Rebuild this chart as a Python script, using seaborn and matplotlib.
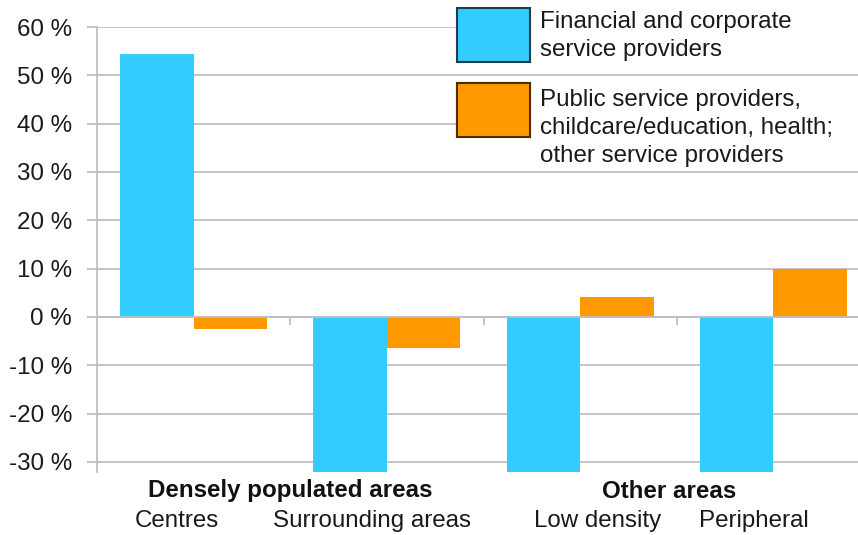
import matplotlib
matplotlib.use("Agg")
import matplotlib.pyplot as plt
from matplotlib.patches import Patch, Rectangle
from matplotlib.legend_handler import HandlerPatch
from matplotlib.transforms import blended_transform_factory
import pandas as pd
import seaborn as sns

# data
areas = ["Centres", "Surrounding areas", "Low density", "Peripheral"]
area_groups = ["Densely populated areas", "Other areas"]
series = ["Financial and corporate\nservice providers",
          "Public service providers,\nchildcare/education, health;\nother service providers"]
financial = [54.4, -32.1, -32.1, -32.1]   # three bars run off the bottom of the axis
public = [-2.5, -6.4, 4.1, 9.9]
yticks = [-30, -20, -10, 0, 10, 20, 30, 40, 50, 60]

colors = ["#33CCFF", "#FF9900"]
edge_colors = ["#233C4A", "#4A3000"]
grid_col = "#BFBFBF"

df = pd.DataFrame({
    "area": areas * 2,
    "series": [series[0]] * len(areas) + [series[1]] * len(areas),
    "value": financial + public,
})

sns.set_theme(style="white")
plt.rcParams["font.family"] = ["Liberation Sans", "DejaVu Sans"]
fs = 17.4

fig = plt.figure(figsize=(8.58, 5.35), dpi=100)
ax = fig.add_axes([97 / 858, 1 - 472 / 535, 773 / 858, 445 / 535])

sns.barplot(data=df, x="area", y="value", hue="series", order=areas,
            hue_order=series, palette=colors, saturation=1, width=0.76,
            ax=ax, legend=False, linewidth=0)

ax.set_ylim(-32.07, 60)
ax.set_xlim(-0.5, 3.5)
ax.set_yticks(yticks)
ax.set_yticklabels([f"{v} %" for v in yticks], fontsize=fs, color="#1a1a1a")
ax.tick_params(axis="y", direction="out", length=7, width=1.3, color=grid_col, pad=11, left=True)
ax.yaxis.grid(True, color=grid_col, linewidth=1.3)
ax.set_axisbelow(True)

# category axis sits at zero, with short ticks between the groups
ax.set_xticks([])
ax.set_xticks([0.5, 1.5, 2.5, 3.5], minor=True)
ax.tick_params(axis="x", which="minor", direction="out", length=6, width=1.3,
               color=grid_col, bottom=True, labelbottom=False)
ax.spines["bottom"].set_position(("data", 0))
ax.spines["bottom"].set_color(grid_col)
ax.spines["bottom"].set_linewidth(1.3)
ax.spines["left"].set_color(grid_col)
ax.spines["left"].set_linewidth(1.3)
ax.spines["top"].set_visible(False)
ax.spines["right"].set_visible(False)
ax.set_xlabel("")
ax.set_ylabel("")

# two-level category labels under the plot
trans = blended_transform_factory(ax.transData, fig.transFigure)
area_label_x = [-0.085, 0.922, 2.088, 2.90]
group_label_x = [0.5, 2.46]
for x, name in zip(area_label_x, areas):
    ax.text(x, 1 - 521 / 535, name, transform=trans, ha="center", va="center",
            fontsize=fs, color="#1a1a1a")
for x, name in zip(group_label_x, area_groups):
    ax.text(x, 1 - 491 / 535, name, transform=trans, ha="center", va="center",
            fontsize=fs, fontweight="bold", color="#111111")


def shifted_patch(dy):
    # legend swatch moved up/down by dy points relative to its text
    def make(legend, orig_handle, xdescent, ydescent, width, height, fontsize):
        return Rectangle((-xdescent, -ydescent + dy), width, height)
    return make


# legend: one box per entry so the grid line between them stays visible
legend_tops = [10, 89]
patch_shift = [1.44, 13.7]
for i, (lab, top) in enumerate(zip(series, legend_tops)):
    handle = Patch(facecolor=colors[i], edgecolor=edge_colors[i], linewidth=1.5)
    leg = ax.legend(handles=[handle], labels=[lab], loc="upper left",
                    bbox_to_anchor=(457 / 858, 0, 401 / 858, 1 - top / 535),
                    bbox_transform=fig.transFigure, mode="expand",
                    frameon=True, facecolor="white", edgecolor="none", framealpha=1,
                    fancybox=False, borderpad=0, borderaxespad=0,
                    handlelength=3.0, handleheight=3.08, handletextpad=0.45,
                    fontsize=fs,
                    handler_map={Patch: HandlerPatch(patch_func=shifted_patch(patch_shift[i]))})
    for t in leg.get_texts():
        t.set_linespacing(1.34)
        t.set_color("#1a1a1a")
    ax.add_artist(leg)

fig.savefig("out.png", dpi=100)
